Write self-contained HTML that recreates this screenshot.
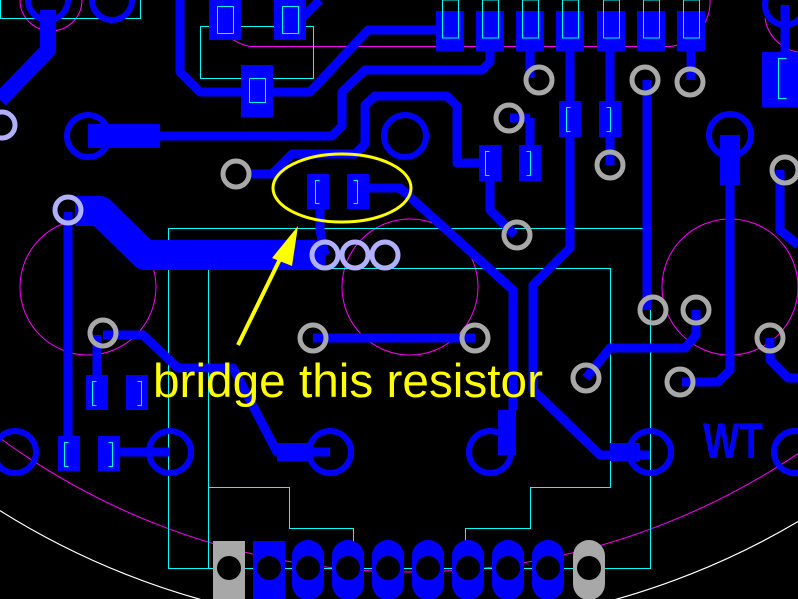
<!DOCTYPE html>
<html><head><meta charset="utf-8"><style>html,body{margin:0;padding:0;background:#000;overflow:hidden}svg{display:block}</style></head>
<body>
<svg width="798" height="599" viewBox="0 0 798 599" xmlns="http://www.w3.org/2000/svg">
<rect width="798" height="599" fill="#000"/>
<g fill="none" stroke="#ff00ff" stroke-width="1">
<circle cx="88" cy="287" r="68"/>
<circle cx="410" cy="287" r="68"/>
<circle cx="730" cy="287" r="68"/>
<path d="M210,0 A50,50 0 0 0 250,46.5 L670,46.5 A45,45 0 0 0 710,0"/>
<path d="M765,18 A40,40 0 0 0 798,52"/>
<path d="M20,0 A30,30 0 0 0 82,0"/>
<circle cx="410" cy="-123" r="695"/>
</g>
<circle cx="408" cy="-140" r="768" fill="none" stroke="#fff" stroke-width="1.2"/>
<g fill="none" stroke="#00ffff" stroke-width="1" shape-rendering="crispEdges">
<rect x="0.5" y="-5" width="140" height="23.5"/>
<rect x="200.5" y="26.5" width="113" height="52"/>
<rect x="168.5" y="228.5" width="482" height="340"/>
<path d="M208.5,568 V268.5 H610.5 V487.5 H530.5 V528.5 H465.5 V568"/>
<path d="M208.5,487.5 H289.5 V528.5 H353.5 V568"/>
</g>
<g fill="none" stroke="#0000ff" stroke-linejoin="round">
<path d="M48,10 V50 L0,100" stroke-width="16"/>
<path d="M88,136 H160" stroke-width="24"/>
<path d="M150,136 H332 L342,126 V92 L365,70 H482 L490,62 V50" stroke-width="9"/>
<path d="M180,0 V72 L200,92 H310 L368,30 H440" stroke-width="9"/>
<path d="M300,20 L320,0" stroke-width="9"/>
<path d="M250,174 H272 L292,154 H355 L365,144 V105 L375,96 H447 L457,106 V163 H485" stroke-width="9"/>
<path d="M450,30 H400" stroke-width="9"/>
<path d="M75,211 H100 L145,255 H325" stroke-width="30"/>
<path d="M320,195 V230 L325,255" stroke-width="9"/>
<path d="M360,188 H400 L513,290 V410" stroke-width="9"/>
<path d="M570,40 V248 L533,285 V390 L600,455 H650" stroke-width="9"/>
<path d="M610,40 V165" stroke-width="9"/>
<path d="M530,40 V78" stroke-width="9"/>
<path d="M691,40 V80" stroke-width="9"/>
<path d="M530,118 H510" stroke-width="9"/>
<path d="M530,118 V150" stroke-width="9"/>
<path d="M490,170 V210 L515,235" stroke-width="9"/>
<path d="M647,80 V310" stroke-width="9"/>
<path d="M730,135 V185" stroke-width="20"/>
<path d="M730,180 V370 L718,382 H682" stroke-width="9"/>
<path d="M780,170 V230 L798,245" stroke-width="9"/>
<path d="M785,5 V60" stroke-width="9"/>
<path d="M68,212 V450" stroke-width="9"/>
<path d="M97,335 V380" stroke-width="9"/>
<path d="M103,335 H143 L178,368 H233 L277,452 H330" stroke-width="9"/>
<path d="M277,452 H310" stroke-width="18"/>
<path d="M313,338 H475" stroke-width="9"/>
<path d="M110,452 H170" stroke-width="9"/>
<path d="M507,410 V455" stroke-width="18"/>
<path d="M610,452 H640" stroke-width="18"/>
<path d="M586,378 L610,348 H685 L696,335 V310" stroke-width="9"/>
<path d="M770,338 V360 L788,378 H798" stroke-width="9"/>
</g>
<g fill="none" stroke="#0000ff" stroke-width="6">
<circle cx="48" cy="0" r="20"/><circle cx="112" cy="0" r="20"/>
<circle cx="88" cy="136" r="21"/><circle cx="405" cy="136" r="21"/>
<circle cx="730" cy="135" r="21"/><circle cx="785" cy="5" r="20"/>
<circle cx="15" cy="452" r="21"/><circle cx="170" cy="452" r="21"/>
<circle cx="330" cy="452" r="21"/><circle cx="490" cy="452" r="21"/>
<circle cx="650" cy="452" r="21"/><circle cx="795" cy="452" r="21"/>
</g>
<g fill="#0000ff">
<rect x="209" y="0" width="32" height="40"/><rect x="274" y="0" width="32" height="40"/>
<rect x="241" y="65" width="32" height="52"/>
<rect x="436" y="11" width="28" height="40"/><rect x="476" y="11" width="28" height="40"/>
<rect x="516" y="11" width="28" height="40"/><rect x="556" y="11" width="28" height="40"/>
<rect x="597" y="11" width="28" height="40"/><rect x="637" y="11" width="28" height="40"/>
<rect x="677" y="11" width="28" height="40"/>
<rect x="762" y="52" width="36" height="55"/>
<rect x="559" y="101" width="22" height="36"/><rect x="599" y="101" width="22" height="36"/>
<rect x="479" y="145" width="22" height="36"/><rect x="519" y="145" width="22" height="36"/>
<rect x="307" y="174" width="22" height="35"/><rect x="347" y="174" width="22" height="35"/>
<rect x="86" y="375" width="22" height="35"/><rect x="126" y="375" width="22" height="35"/>
<rect x="58" y="436" width="22" height="35"/><rect x="98" y="436" width="22" height="35"/>
</g>
<g fill="none" stroke="#00ffff" stroke-width="1" shape-rendering="crispEdges">
<rect x="217.5" y="6.5" width="16" height="27"/><rect x="282.5" y="6.5" width="16" height="27"/>
<rect x="249.5" y="78.5" width="16" height="24"/>
<rect x="442.5" y="0" width="16" height="38"/><rect x="482.5" y="0" width="16" height="38"/>
<rect x="522.5" y="0" width="16" height="38"/><rect x="562.5" y="0" width="16" height="38"/>
<rect x="603.5" y="0" width="16" height="38"/><rect x="643.5" y="0" width="16" height="38"/>
<rect x="683.5" y="0" width="16" height="38"/>
<path d="M319.5,180.5 h-4 v23 h4 M353.5,180.5 h4 v23 h-4 M570.5,107.5 h-4 v24 h4 M606.5,107.5 h4 v24 h-4 M489.5,151.5 h-4 v24 h4 M526.5,151.5 h4 v24 h-4 M96.5,381.5 h-4 v24 h4 M137.5,381.5 h4 v24 h-4 M68.5,442.5 h-4 v24 h4 M108.5,442.5 h4 v24 h-4 M786.5,58.5 h-8 v40 h8"/>
</g>
<text x="703" y="458" font-family="Liberation Sans, sans-serif" font-weight="bold" font-size="50" fill="#0000ff" textLength="60" lengthAdjust="spacingAndGlyphs">WT</text>
<g fill="none" stroke-width="5">
<g stroke="#a8a8a8">
<circle cx="236" cy="174" r="13"/><circle cx="539" cy="80" r="13"/><circle cx="645" cy="80" r="13"/>
<circle cx="690" cy="82" r="13"/><circle cx="509" cy="118" r="13"/><circle cx="610" cy="165" r="13"/>
<circle cx="517" cy="235" r="13"/><circle cx="785" cy="170" r="13"/><circle cx="653" cy="310" r="13"/>
<circle cx="696" cy="310" r="13"/><circle cx="770" cy="338" r="13"/><circle cx="475" cy="338" r="13"/>
<circle cx="313" cy="338" r="13"/><circle cx="103" cy="333" r="13"/><circle cx="586" cy="378" r="13"/>
<circle cx="680" cy="382" r="13"/>
</g>
<g stroke="#b0b0ff">
<circle cx="2" cy="125" r="13"/><circle cx="68" cy="210" r="13"/>
<circle cx="325" cy="255" r="13"/><circle cx="355" cy="255" r="13"/><circle cx="385" cy="255" r="13"/>
</g>
</g>
<rect x="213" y="541" width="32" height="58" fill="#a8a8a8"/>
<rect x="253" y="541" width="32" height="58" fill="#0000ff"/>
<g fill="#0000ff">
<rect x="292" y="540" width="32" height="60" rx="16"/><rect x="332" y="540" width="32" height="60" rx="16"/>
<rect x="372" y="540" width="32" height="60" rx="16"/><rect x="412" y="540" width="32" height="60" rx="16"/>
<rect x="452" y="540" width="32" height="60" rx="16"/><rect x="492" y="540" width="32" height="60" rx="16"/>
<rect x="532" y="540" width="32" height="60" rx="16"/>
</g>
<rect x="573" y="540" width="32" height="60" rx="16" fill="#a8a8a8"/>
<g fill="#000">
<circle cx="229" cy="568" r="12"/><circle cx="269" cy="568" r="12"/><circle cx="308" cy="568" r="12"/>
<circle cx="348" cy="568" r="12"/><circle cx="388" cy="568" r="12"/><circle cx="428" cy="568" r="12"/>
<circle cx="468" cy="568" r="12"/><circle cx="508" cy="568" r="12"/><circle cx="548" cy="568" r="12"/>
<circle cx="589" cy="568" r="12"/>
</g>
<ellipse cx="342" cy="188" rx="69" ry="34" fill="none" stroke="#ffff00" stroke-width="3"/>
<line x1="238" y1="345" x2="282" y2="255" stroke="#ffff00" stroke-width="4"/>
<polygon points="298,226 272,258 292,266" fill="#ffff00"/>
<text x="153" y="397" font-family="Liberation Sans, sans-serif" font-size="47" fill="#ffff00" textLength="390" lengthAdjust="spacingAndGlyphs">bridge this resistor</text>
</svg>
</body></html>
